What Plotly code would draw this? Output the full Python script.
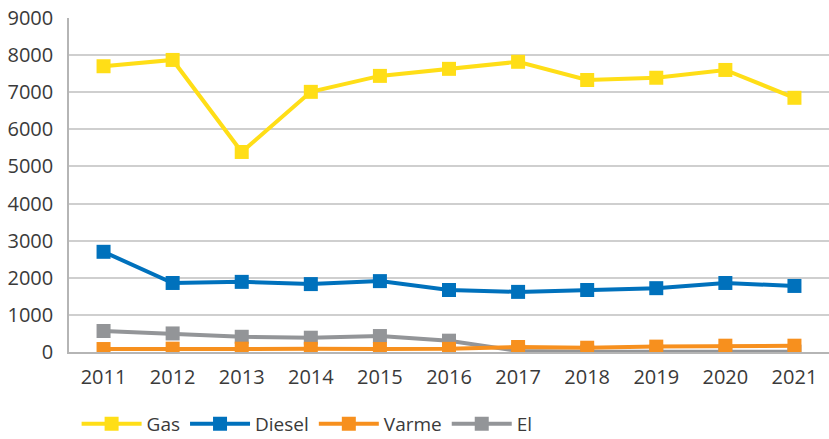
import plotly.graph_objects as go

years = ["2011", "2012", "2013", "2014", "2015", "2016", "2017", "2018", "2019", "2020", "2021"]
gas = [7700, 7870, 5390, 7010, 7440, 7630, 7820, 7330, 7390, 7600, 6850]
diesel = [2700, 1860, 1890, 1830, 1910, 1670, 1620, 1670, 1720, 1860, 1780]
varme = [80, 90, 90, 85, 80, 85, 135, 115, 145, 170, 170]
el = [566, 500, 410, 385, 430, 305, 30, 10, 10, 10, 10]

FONT = "Open Sans"
fig = go.Figure()

def add(name, y, color, rank):
    fig.add_trace(go.Scatter(
        x=years, y=y, name=name, mode="lines+markers",
        line=dict(color=color, width=4),
        marker=dict(symbol="square", size=14, color=color),
        legendrank=rank,
    ))

add("Gas", gas, "#FFDE17", 1)
add("Diesel", diesel, "#0071BC", 2)
add("El", el, "#939598", 4)
add("Varme", varme, "#F7901E", 3)

fig.update_layout(
    width=829, height=439,
    margin=dict(l=69, r=0, t=18, b=87, autoexpand=False),
    paper_bgcolor="white", plot_bgcolor="white",
    font=dict(family=FONT, size=20, color="#3a3a3a"),
    showlegend=True,
    legend=dict(orientation="h", x=0.01, y=-0.215, xanchor="left", yanchor="middle",
                font=dict(size=19), itemwidth=60, tracegroupgap=0,
                traceorder="normal"),
    xaxis=dict(type="category", range=[-0.5, 10.5], showgrid=False,
               showline=True, linecolor="#b5b5b5", linewidth=1.5,
               ticks="outside", ticklen=6, tickcolor="rgba(0,0,0,0)",
               tickfont=dict(size=20), automargin=False),
    yaxis=dict(range=[0, 9000], dtick=1000, showgrid=True, gridcolor="#cfcfcf",
               gridwidth=1.5, showline=True, linecolor="#b5b5b5", linewidth=1.5,
               zeroline=False, ticks="outside", ticklen=10, tickcolor="rgba(0,0,0,0)",
               tickfont=dict(size=20), automargin=False),
)

fig.write_html(
    "out.html",
    config={"displayModeBar": False},
    post_script="document.body.style.margin='0';document.body.style.overflow='hidden';",
)
